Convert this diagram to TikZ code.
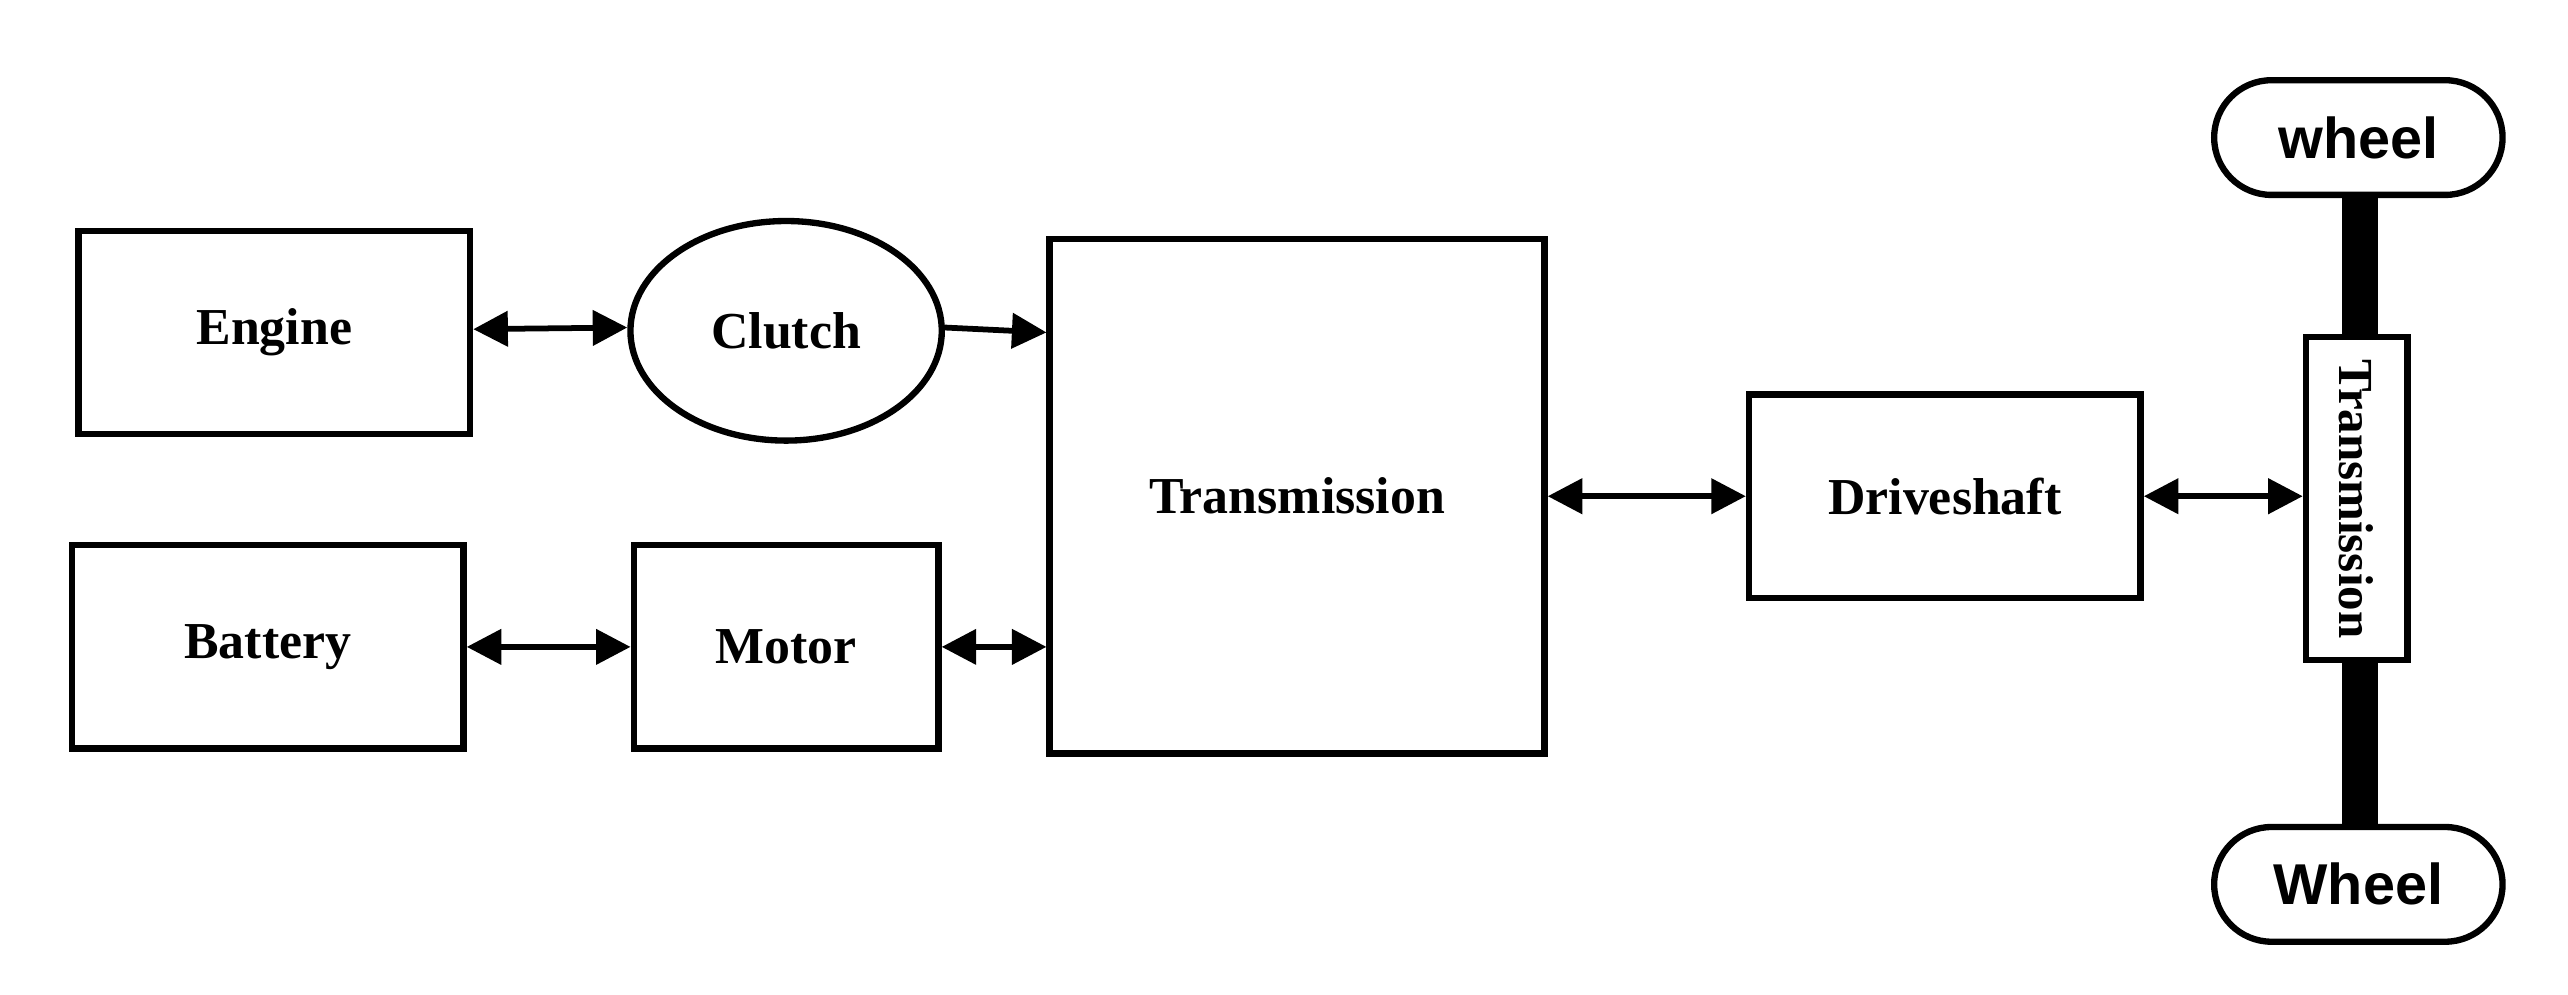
\documentclass[tikz,border=0pt]{standalone}
\usepackage{fontspec}
\setmainfont{Liberation Serif}
\newfontfamily\sansf{Liberation Sans}
\usetikzlibrary{arrows.meta,shapes.geometric}
\begin{document}
\begin{tikzpicture}[x=0.01cm,y=-0.01cm,
  box/.style={draw,line width=1.1pt,inner sep=0pt,font=\fontsize{9}{11}\selectfont\bfseries},
  con/.style={line width=1pt,{Triangle[length=6pt,width=6pt]}-{Triangle[length=6pt,width=6pt]}},
  one/.style={line width=1pt,-{Triangle[length=6pt,width=6pt]}},
  wh/.style={box,rounded corners=0.35cm,minimum width=1.76cm,minimum height=0.7cm,font=\sansf\fontsize{10}{12}\selectfont\bfseries}]
\useasboundingbox (0,0) rectangle (1568,607);
\node[box,minimum width=2.39cm,minimum height=1.24cm] (eng) at (167.5,203) {Engine};
\node[box,ellipse,minimum width=1.9cm,minimum height=1.34cm] (clu) at (480,202) {Clutch};
\node[box,minimum width=3.02cm,minimum height=3.14cm] (tr) at (792,303) {Transmission};
\node[box,minimum width=2.39cm,minimum height=1.24cm] (bat) at (163.5,395) {Battery};
\node[box,minimum width=1.86cm,minimum height=1.24cm] (mot) at (480,395) {Motor};
\node[box,minimum width=2.39cm,minimum height=1.24cm] (dri) at (1187.5,303) {Driveshaft};
\node[box,fill=white,minimum width=0.62cm,minimum height=1.97cm] (vt) at (1439,304.5) {};
\node[rotate=-90,inner sep=0pt,font=\fontsize{8.5}{10}\selectfont\bfseries] at (vt) {Transmission};
\node[wh] (w1) at (1440,84) {wheel};
\node[wh] (w2) at (1440,540) {Wheel};
\fill (1430,119) rectangle (1452,206);
\fill (1430,403) rectangle (1452,505);
\draw[con] (eng.east |- 0,201) -- (clu.west |- 0,200);
\draw[one] (clu.east |- 0,200) -- (tr.west |- 0,203);
\draw[con] (bat.east) -- (mot.west);
\draw[con] (mot.east) -- (tr.west |- mot.east);
\draw[con] (tr.east) -- (dri.west);
\draw[con] (dri.east) -- (vt.west |- dri.east);
\end{tikzpicture}
\end{document}
